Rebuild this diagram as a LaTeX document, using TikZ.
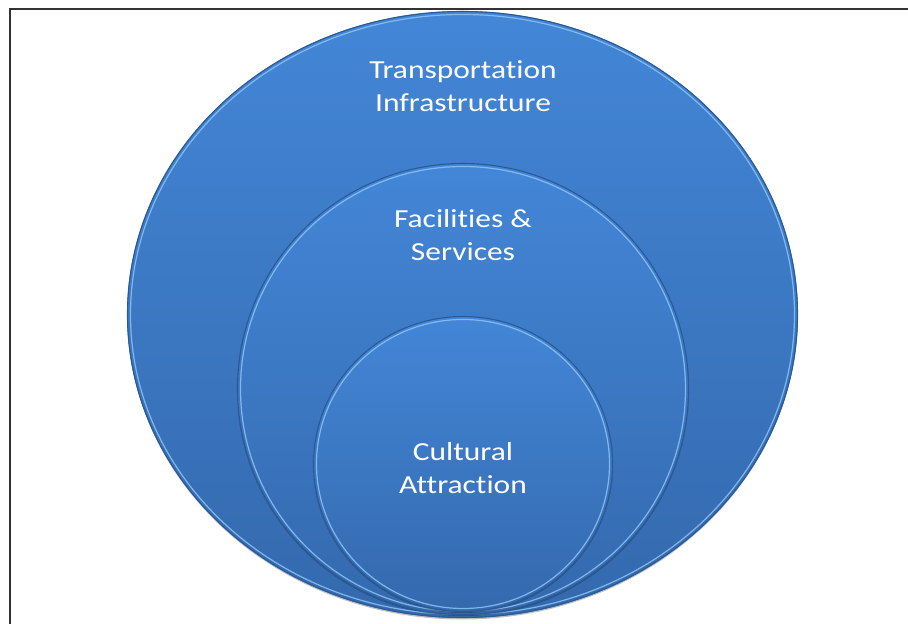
\documentclass[tikz,border=0pt]{standalone}
\usepackage{fontspec}
\setmainfont{Carlito}[FakeStretch=1.21, Ligatures={NoCommon}]
\usetikzlibrary{shapes.geometric}
\definecolor{ctop}{HTML}{4386D7}
\definecolor{cbot}{HTML}{3469AD}
\definecolor{rimdark}{HTML}{2A5993}
\definecolor{rimlight}{HTML}{8DC4F6}
\definecolor{framec}{HTML}{333333}
\tikzset{
  framestyle/.style={draw=framec, line width=1.4pt},
  discfill/.style={top color=ctop, bottom color=cbot, draw=none},
  rimd/.style={draw=rimdark, line width=1.1pt},
  riml/.style={draw=rimlight, line width=1.2pt, opacity=.85},
  shadowstyle/.style={fill=black, opacity=.25},
  lbl/.style={text=white, align=center, inner sep=0pt, font=\fontsize{26}{33}\selectfont}
}
\begin{document}
\begin{tikzpicture}[x=1pt,y=1pt]
\useasboundingbox (0,0) rectangle (908,624);
\fill[white] (0,0) rectangle (908,624);
\coordinate (fb) at (10,0);
\coordinate (fc) at (10,615);
\coordinate (fr) at (908,615);
\draw[framestyle] (fb) -- (fc) -- (fr);
% outer disc
\fill[shadowstyle] (462.5,308) ellipse [x radius=335, y radius=303.5];
\shade[discfill] (462.5,309.5) ellipse [x radius=335.5, y radius=303.5];
\draw[rimd] (462.5,309.5) ellipse [x radius=335, y radius=303];
\draw[riml] (462.5,309.5) ellipse [x radius=332, y radius=300];
% middle disc
\fill[shadowstyle] (463,234) ellipse [x radius=226, y radius=226];
\shade[discfill] (463,235) ellipse [x radius=226, y radius=226];
\draw[rimd] (463,235) ellipse [x radius=225.5, y radius=225.5];
\draw[riml] (463,235) ellipse [x radius=222.5, y radius=222.5];
% inner disc
\fill[shadowstyle] (463,159) ellipse [x radius=150, y radius=148];
\shade[discfill] (463,160) ellipse [x radius=150, y radius=148];
\draw[rimd] (463,160) ellipse [x radius=149.5, y radius=147.5];
\draw[riml] (463,160) ellipse [x radius=146.5, y radius=144.5];
% labels
\node[lbl] (t1) at (463,537.5) {Transportation\\Infrastructure};
\node[lbl] (t2) at (463,388.5) {Facilities \&\\Services};
\node[lbl] (t3) at (463,156) {Cultural\\Attraction};
\end{tikzpicture}
\end{document}
